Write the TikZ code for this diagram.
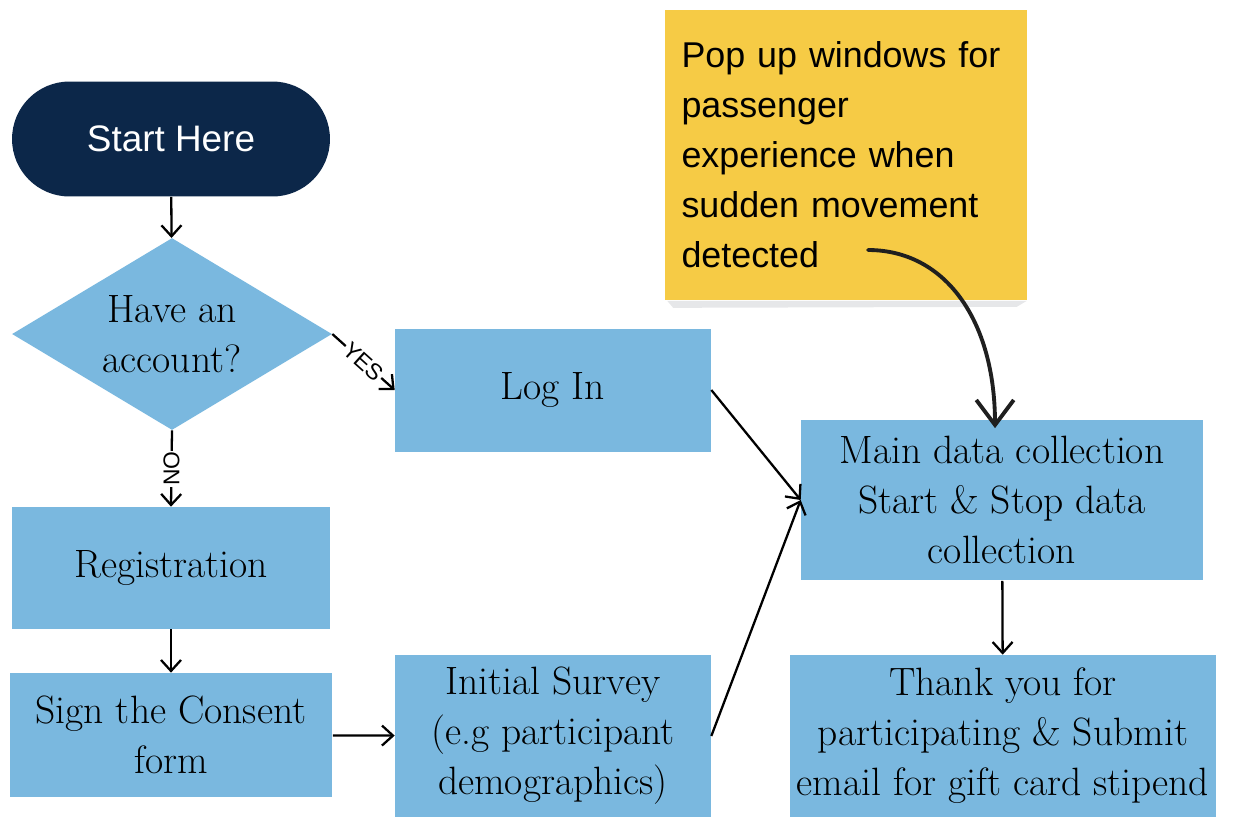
\documentclass[tikz,border=0pt]{standalone}
\usepackage{fontspec}
\newfontfamily\notefont{Liberation Sans}
\usetikzlibrary{arrows.meta,positioning,shapes.geometric,backgrounds,calc}

\definecolor{navy}{HTML}{0C2749}
\definecolor{boxblue}{HTML}{7AB8DF}
\definecolor{stickyyellow}{HTML}{F6CB45}
\definecolor{shadowgray}{HTML}{E6E7E9}

\begin{document}
\begin{tikzpicture}[
    x=0.02cm, y=-0.02cm,
    font=\fontsize{22.5}{28.5}\selectfont,
    >={Straight Barb[length=2.2mm,width=4mm]},
    flow/.style={->, line width=1.3pt},
    process/.style={fill=boxblue, align=center, inner sep=2pt},
    decision/.style={diamond, aspect=1.667, fill=boxblue, align=center, inner sep=0pt,
                     minimum width=6.4cm, minimum height=3.84cm},
    terminal/.style={fill=navy, text=white, rounded corners=1.15cm,
                     minimum width=6.36cm, minimum height=2.3cm,
                     font=\notefont\fontsize{21}{25}\selectfont},
    sticky/.style={fill=stickyyellow, align=left, text width=6.58cm, inner sep=0.34cm,
                   minimum height=5.82cm, font=\notefont\fontsize{20.4}{28.45}\selectfont},
    lbl/.style={font=\notefont\fontsize{13}{14}\selectfont, fill=white, inner sep=0.5pt},
]
\useasboundingbox (0,0) rectangle (1234,826);

% --- Left column: entry and sign-up ---
\node[terminal] (start) at (171,139) {Start Here};
\node[decision] (ask)   at (172,334) {Have an\\account?};
\node[process, minimum width=6.36cm, minimum height=2.44cm] (reg)     at (171,568) {Registration};
\node[process, minimum width=6.46cm, minimum height=2.48cm] (consent) at (171,735) {Sign the Consent\\form};

% --- Middle column ---
\node[process, minimum width=6.32cm, minimum height=2.46cm] (login)  at (553,390) {Log In};
\node[process, minimum width=6.32cm, minimum height=3.24cm] (survey) at (553,736) {Initial Survey\\(e.g participant\\demographics)};

% --- Right column: data collection ---
\node[process, minimum width=8.04cm, minimum height=3.22cm] (main)   at (1002,500) {Main data collection\\Start \& Stop data\\collection};
\node[process, minimum width=8.52cm, minimum height=3.24cm] (thanks) at (1003,736) {Thank you for\\participating \& Submit\\email for gift card stipend};

% --- Sticky note with its shadow ---
\node[sticky] (note) at (846,155) {Pop up windows for\\passenger\\experience when\\sudden movement\\detected};
\begin{scope}[on background layer]
  \fill[shadowgray] ($(note.south west)+(3,0)$) -- ($(note.south east)+(-1,0)$)
        -- ($(note.south east)+(-11,6)$) -- ($(note.south west)+(9,7)$) -- cycle;
\end{scope}
\coordinate (hint) at (868,250);

% Flow arrows
\draw[flow] (start) -- (ask);
\draw[flow] (ask.east) -- node[lbl, sloped]{YES} (login.west);
\draw[flow] (ask.south) -- node[lbl, rotate=90]{NO} (reg.north);
\draw[flow] (reg) -- (consent);
\draw[flow] (consent) -- (survey);
\draw[flow] (login.east) -- (main.west);
\draw[flow] (survey.east) -- (main.west);
\draw[flow] (main) -- (thanks);

% Hand-drawn pointer from the note
\draw[line width=2.2pt, black!88, line cap=round, -{Straight Barb[length=5mm,width=7.5mm]}]
    (hint) .. controls (945,250) and (995,320) .. ([xshift=-0.14cm,yshift=-0.18cm]main.north);

\end{tikzpicture}
\end{document}
